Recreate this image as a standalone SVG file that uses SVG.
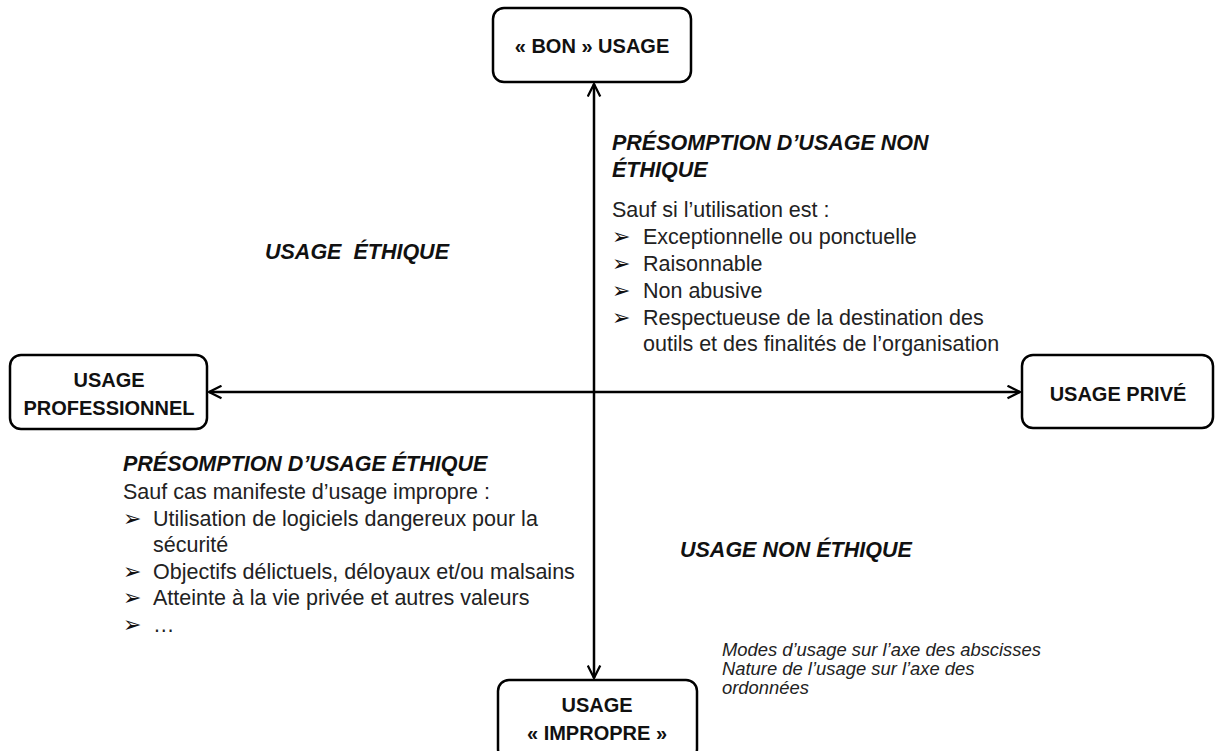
<svg xmlns="http://www.w3.org/2000/svg" width="1215" height="751" viewBox="0 0 1215 751">
<defs>
<style>
.box{fill:#fff;stroke:#000;stroke-width:2.5}
.nl{font-family:"Liberation Sans",Arial,sans-serif;font-weight:bold;font-size:20px;fill:#111;text-anchor:middle}
.h{font-family:"Liberation Sans",Arial,sans-serif;font-weight:bold;font-style:italic;font-size:21.5px;fill:#111}
.t{font-family:"Liberation Sans",Arial,sans-serif;font-size:21.5px;fill:#222}
.b{font-family:"DejaVu Sans",sans-serif;font-size:22px;fill:#111}
.n{font-family:"Liberation Sans",Arial,sans-serif;font-style:italic;font-size:18.4px;fill:#222}
.ax{stroke:#000;stroke-width:2.5;fill:none}
</style>
<marker id="ar" viewBox="0 0 12 12" refX="11" refY="6" markerWidth="6" markerHeight="6" orient="auto-start-reverse" markerUnits="strokeWidth">
<path d="M1,1 L11,6 L1,11" fill="none" stroke="#000" stroke-width="1.8"/>
</marker>
</defs>
<rect width="1215" height="751" fill="#fff"/>
<g id="connectors">
<line class="ax" x1="594" y1="84" x2="594" y2="678" marker-start="url(#ar)" marker-end="url(#ar)"/>
<line class="ax" x1="209" y1="392" x2="1020" y2="392" marker-start="url(#ar)" marker-end="url(#ar)"/>
</g>
<g id="node-bon">
<rect class="box" x="493" y="8" width="198" height="74" rx="11"/>
<text class="nl" x="592" y="53">« BON » USAGE</text>
</g>
<g id="node-pro">
<rect class="box" x="10" y="355" width="197" height="74" rx="11"/>
<text class="nl" x="109" y="387">USAGE</text>
<text class="nl" x="109" y="415">PROFESSIONNEL</text>
</g>
<g id="node-prive">
<rect class="box" x="1022" y="355" width="191" height="73" rx="11"/>
<text class="nl" x="1118" y="401">USAGE PRIVÉ</text>
</g>
<g id="node-impropre">
<rect class="box" x="498" y="680" width="199" height="80" rx="11"/>
<text class="nl" x="597" y="712">USAGE</text>
<text class="nl" x="597" y="740">« IMPROPRE »</text>
</g>
<g id="quadrant-top-right">
<text class="h" x="612" y="150">PRÉSOMPTION D’USAGE NON</text>
<text class="h" x="612" y="177">ÉTHIQUE</text>
<text class="t" x="612" y="217">Sauf si l’utilisation est :</text>
<text class="b" x="612" y="244">➢</text><text class="t" x="643" y="244">Exceptionnelle ou ponctuelle</text>
<text class="b" x="612" y="271">➢</text><text class="t" x="643" y="271">Raisonnable</text>
<text class="b" x="612" y="298">➢</text><text class="t" x="643" y="298">Non abusive</text>
<text class="b" x="612" y="325">➢</text><text class="t" x="643" y="325">Respectueuse de la destination des</text>
<text class="t" x="643" y="351">outils et des finalités de l’organisation</text>
</g>
<g id="quadrant-top-left">
<text class="h" x="265" y="259" xml:space="preserve">USAGE  ÉTHIQUE</text>
</g>
<g id="quadrant-bottom-left">
<text class="h" x="123" y="471">PRÉSOMPTION D’USAGE ÉTHIQUE</text>
<text class="t" x="123" y="499">Sauf cas manifeste d’usage impropre :</text>
<text class="b" x="123" y="526">➢</text><text class="t" x="153" y="526">Utilisation de logiciels dangereux pour la</text>
<text class="t" x="153" y="552">sécurité</text>
<text class="b" x="123" y="579">➢</text><text class="t" x="153" y="579">Objectifs délictuels, déloyaux et/ou malsains</text>
<text class="b" x="123" y="605">➢</text><text class="t" x="153" y="605">Atteinte à la vie privée et autres valeurs</text>
<text class="b" x="123" y="632">➢</text><text class="t" x="153" y="632">…</text>
</g>
<g id="quadrant-bottom-right">
<text class="h" x="680" y="557">USAGE NON ÉTHIQUE</text>
</g>
<g id="note">
<text class="n" x="722" y="656">Modes d’usage sur l’axe des abscisses</text>
<text class="n" x="722" y="675">Nature de l’usage sur l’axe des</text>
<text class="n" x="722" y="694">ordonnées</text>
</g>
</svg>
